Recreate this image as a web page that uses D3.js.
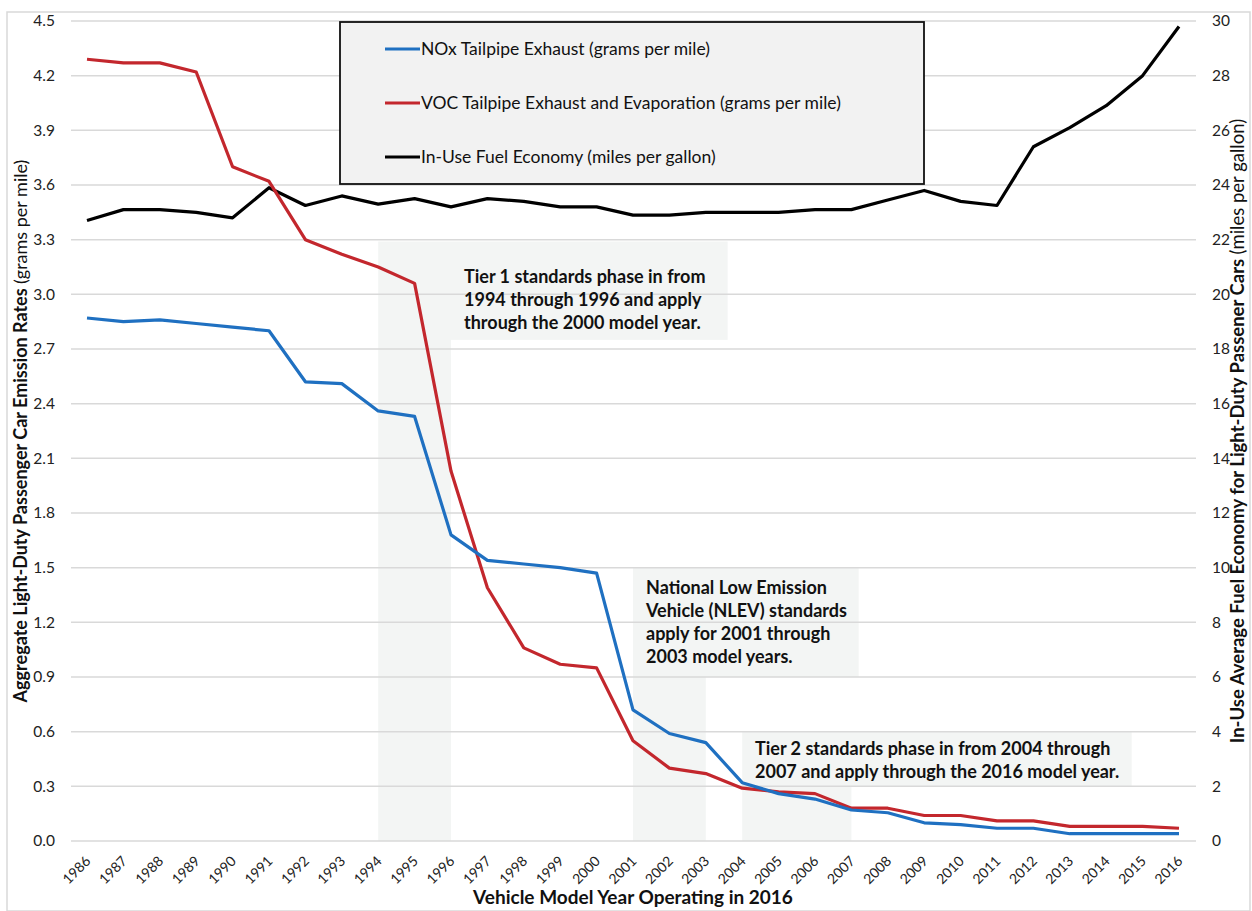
<!DOCTYPE html>
<html>
<head>
<meta charset="utf-8">
<script src="https://cdn.jsdelivr.net/npm/d3@7"></script>
<style>
  body { margin: 0; background: #fff; }
  svg { display: block; font-family: Lato, "Open Sans", sans-serif; }
</style>
</head>
<body>
<script>
const years = d3.range(1986, 2017);

// grams per mile
const nox = [2.87, 2.85, 2.86, 2.84, 2.82, 2.80, 2.52, 2.51, 2.36, 2.33,
  1.68, 1.54, 1.52, 1.50, 1.47, 0.72, 0.59, 0.54, 0.32, 0.26,
  0.23, 0.17, 0.155, 0.10, 0.09, 0.07, 0.07, 0.04, 0.04, 0.04, 0.04];
const voc = [4.29, 4.27, 4.27, 4.22, 3.70, 3.62, 3.30, 3.22, 3.15, 3.06,
  2.03, 1.39, 1.06, 0.97, 0.95, 0.55, 0.40, 0.37, 0.29, 0.27,
  0.26, 0.18, 0.18, 0.14, 0.14, 0.11, 0.11, 0.08, 0.08, 0.08, 0.07];
// miles per gallon
const mpg = [22.7, 23.1, 23.1, 23.0, 22.8, 23.9, 23.25, 23.6, 23.3, 23.5,
  23.2, 23.5, 23.4, 23.2, 23.2, 22.9, 22.9, 23.0, 23.0, 23.0,
  23.1, 23.1, 23.45, 23.8, 23.4, 23.25, 25.4, 26.1, 26.9, 28.0, 29.8];

const leftTicks = d3.range(0, 4.51, 0.3);
const rightTicks = d3.range(0, 31, 2);

const seriesNames = [
  "NOx Tailpipe Exhaust (grams per mile)",
  "VOC Tailpipe Exhaust and Evaporation (grams per mile)",
  "In-Use Fuel Economy (miles per gallon)"
];

// shaded periods: [start year, end year, note lines]
const periods = [
  { from: 1994, to: 1996, lines: ["Tier 1 standards phase in from", "1994 through 1996 and apply", "through the 2000 model year."] },
  { from: 2001, to: 2003, lines: ["National Low Emission", "Vehicle (NLEV) standards", "apply for 2001 through", "2003 model years."] },
  { from: 2004, to: 2007, lines: ["Tier 2 standards phase in from 2004 through", "2007 and apply through the 2016 model year."] }
];

const W = 1252, H = 911;
const svg = d3.select("body").append("svg").attr("width", W).attr("height", H);

svg.append("rect")
  .attr("x", 7).attr("y", 12).attr("width", W - 9).attr("height", H - 12)
  .attr("fill", "#fff").attr("stroke", "#d9d9d9").attr("stroke-width", 1.5);

const x = d3.scaleLinear().domain([1986, 2016]).range([87, 1179]);
const yL = d3.scaleLinear().domain([0, 4.5]).range([841, 21]);
const yR = d3.scaleLinear().domain([0, 30]).range([841, 21]);
const plotL = 71, plotR = 1196;

// note boxes (background) and bands
const bandFill = "#f3f5f4";
const boxes = [
  { band: [1994, 1996], bandTop: 3.29, box: { x0: 1996, x1: 2003.6, top: 3.29, bottom: 2.75 } },
  { band: [2001, 2003], bandTop: 0.9, box: { x0: 2001, x1: 2007.2, top: 1.5, bottom: 0.9 } },
  { band: [2004, 2007], bandTop: 0.3, box: { x0: 2004, x1: 2014.7, top: 0.6, bottom: 0.3 } }
];
const gBg = svg.append("g");
boxes.forEach(b => {
  gBg.append("rect")
    .attr("x", x(b.band[0])).attr("width", x(b.band[1]) - x(b.band[0]))
    .attr("y", yL(b.bandTop)).attr("height", yL(0) - yL(b.bandTop))
    .attr("fill", bandFill);
  gBg.append("rect")
    .attr("x", x(b.box.x0)).attr("width", x(b.box.x1) - x(b.box.x0))
    .attr("y", yL(b.box.top)).attr("height", yL(b.box.bottom) - yL(b.box.top))
    .attr("fill", bandFill);
});

// gridlines
svg.append("g").selectAll("line").data(leftTicks).join("line")
  .attr("x1", plotL).attr("x2", plotR)
  .attr("y1", d => yL(d)).attr("y2", d => yL(d))
  .attr("stroke", "#d9d9d9").attr("stroke-width", 1.5);

// left axis
const axL = svg.append("g").attr("transform", `translate(${plotL},0)`)
  .call(d3.axisLeft(yL).tickValues(leftTicks).tickFormat(d3.format(".1f")).tickSize(0).tickPadding(16));
axL.select(".domain").remove();
axL.selectAll("text").attr("font-size", 15.5).attr("font-family", "Lato").attr("fill", "#222");

// right axis
const axR = svg.append("g").attr("transform", `translate(${plotR},0)`)
  .call(d3.axisRight(yR).tickValues(rightTicks).tickFormat(d3.format("d")).tickSize(0).tickPadding(16));
axR.select(".domain").remove();
axR.selectAll("text").attr("font-size", 15.5).attr("font-family", "Lato").attr("fill", "#222");

// x axis
const axX = svg.append("g").attr("transform", `translate(0,${yL(0)})`)
  .call(d3.axisBottom(x).tickValues(years).tickFormat(d3.format("d")).tickSize(0));
axX.select(".domain").remove();
axX.selectAll("text")
  .attr("font-size", 14).attr("font-family", "Lato").attr("fill", "#222")
  .attr("text-anchor", "end")
  .attr("dy", null).attr("y", 0)
  .attr("transform", "translate(4,21) rotate(-45)");

// annotation text
const noteAnchors = [[464, 283], [646, 594], [755, 755]];
periods.forEach((p, i) => {
  const t = svg.append("text")
    .attr("x", noteAnchors[i][0]).attr("y", noteAnchors[i][1])
    .attr("font-size", 18).attr("font-weight", "bold").attr("fill", "#111");
  p.lines.forEach((l, j) => {
    t.append("tspan").attr("x", noteAnchors[i][0]).attr("dy", j === 0 ? 0 : 23).text(l);
  });
});

// lines
const lineL = vals => d3.line().x((d, i) => x(years[i])).y(d => yL(d))(vals);
const lineR = vals => d3.line().x((d, i) => x(years[i])).y(d => yR(d))(vals);
const colors = ["#1f70c1", "#c3272d", "#000"];

svg.append("path").attr("d", lineR(mpg)).attr("fill", "none")
  .attr("stroke", colors[2]).attr("stroke-width", 3.2).attr("stroke-linejoin", "round");
svg.append("path").attr("d", lineL(voc)).attr("fill", "none")
  .attr("stroke", colors[1]).attr("stroke-width", 3.2).attr("stroke-linejoin", "round");
svg.append("path").attr("d", lineL(nox)).attr("fill", "none")
  .attr("stroke", colors[0]).attr("stroke-width", 3.2).attr("stroke-linejoin", "round");

// legend
const lg = svg.append("g");
lg.append("rect").attr("x", 340).attr("y", 22).attr("width", 584).attr("height", 162)
  .attr("fill", "#f2f2f2").attr("stroke", "#111").attr("stroke-width", 1.8);
seriesNames.forEach((n, i) => {
  const yy = 49 + i * 54;
  lg.append("line").attr("x1", 385).attr("x2", 420).attr("y1", yy).attr("y2", yy)
    .attr("stroke", colors[i]).attr("stroke-width", 3);
  lg.append("text").attr("x", 421).attr("y", yy + 6)
    .attr("font-size", 17.5).attr("fill", "#111").text(n);
});

// axis titles
const tl = svg.append("text")
  .attr("transform", `translate(27,${431}) rotate(-90)`)
  .attr("text-anchor", "middle").attr("font-size", 18).attr("fill", "#111");
tl.append("tspan").attr("font-weight", "bold").text("Aggregate Light-Duty Passenger Car Emission Rates ");
tl.append("tspan").text("(grams per mile)");

const tr = svg.append("text")
  .attr("transform", `translate(1244,${431}) rotate(-90)`)
  .attr("text-anchor", "middle").attr("font-size", 18.5).attr("fill", "#111");
tr.append("tspan").attr("font-weight", "bold").text("In-Use Average Fuel Economy for Light-Duty Passener Cars ");
tr.append("tspan").text("(miles per gallon)");

svg.append("text")
  .attr("x", 633).attr("y", 904).attr("text-anchor", "middle")
  .attr("font-size", 19).attr("font-weight", "bold").attr("fill", "#111")
  .text("Vehicle Model Year Operating in 2016");
</script>
</body>
</html>
